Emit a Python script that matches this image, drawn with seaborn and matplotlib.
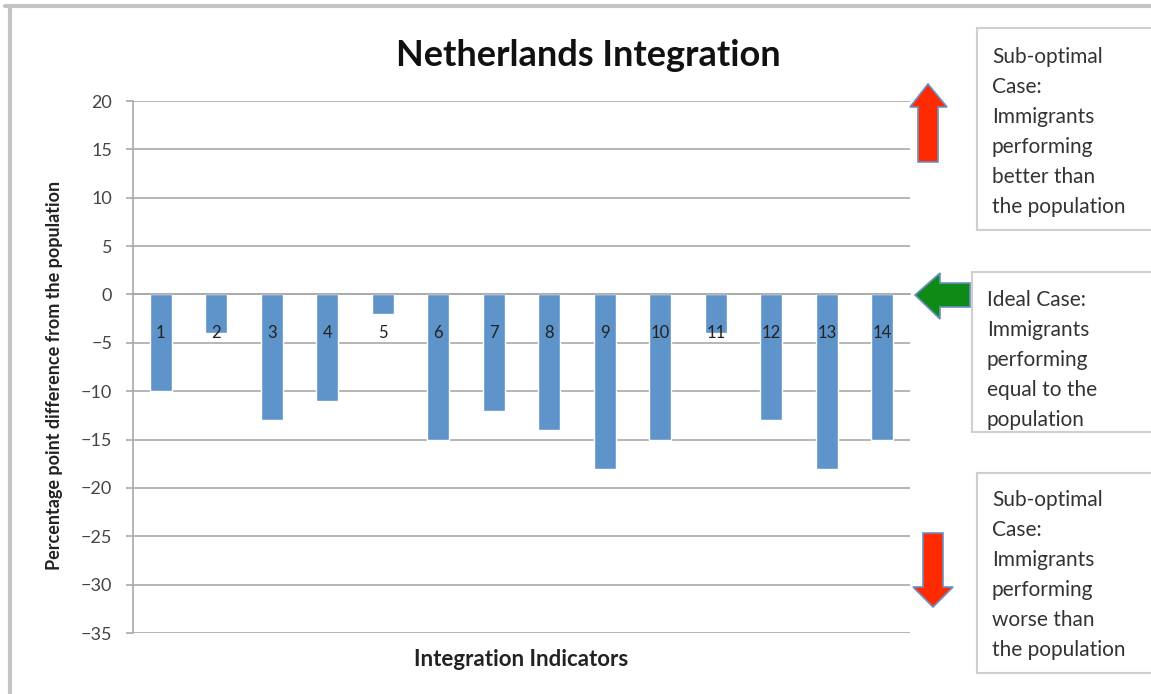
import numpy as np
import matplotlib
matplotlib.use("Agg")
import matplotlib.pyplot as plt
from matplotlib.patches import Polygon, Rectangle
import seaborn as sns

# ---- data ----
indicators = [str(i) for i in range(1, 15)]
differences = [-10, -4, -13, -11, -2, -15, -12, -14, -18, -15, -4, -13, -18, -15]
y_ticks = list(range(-35, 25, 5))

box_texts = [
    "Sub-optimal\nCase:\nImmigrants\nperforming\nbetter than\nthe population",
    "Ideal Case:\nImmigrants\nperforming\nequal to the\npopulation",
    "Sub-optimal\nCase:\nImmigrants\nperforming\nworse than\nthe population",
]

sns.set_style("white")
plt.rcParams['font.family'] = ['Lato', 'DejaVu Sans']

W, H = 1151, 694
fig = plt.figure(figsize=(W / 100, H / 100), dpi=100)
fig.patch.set_facecolor("white")

# main axes, placed in pixel terms
x0, x1, y_top, y_bot = 133, 910, 101, 633
ax = fig.add_axes([x0 / W, 1 - y_bot / H, (x1 - x0) / W, (y_bot - y_top) / H])

grid_col = "#a9a9a9"
# horizontal gridlines behind the bars (the axis itself is drawn on top
# so the category labels show over the bars)
for yv in y_ticks:
    ax.axhline(yv, color=grid_col, linewidth=1.2, zorder=0)

sns.barplot(x=indicators, y=differences, color="#5e94ca", saturation=1,
            width=0.39, ax=ax, zorder=2)

ax.set_ylim(-35, 20)
ax.set_xlim(-0.5, len(indicators) - 0.5)
ax.set_yticks(y_ticks)
ax.grid(False)
ax.set_axisbelow(False)

for s in ["top", "right"]:
    ax.spines[s].set_visible(False)
ax.spines["bottom"].set_position(("data", 0))
ax.spines["bottom"].set_color(grid_col)
ax.spines["left"].set_color(grid_col)
ax.spines["bottom"].set_linewidth(1.2)
ax.spines["left"].set_linewidth(1.2)

ax.set_xticks(np.arange(-0.5, len(indicators), 1.0), minor=True)
ax.tick_params(axis="x", which="major", length=0, pad=22, labelsize=12,
               labelcolor="#222222")
ax.tick_params(axis="x", which="minor", direction="in", length=3.5,
               color=grid_col, width=1)
ax.tick_params(axis="y", which="major", direction="out", length=5,
               color=grid_col, width=1.2, pad=10, labelsize=13,
               labelcolor="#444444")
ax.yaxis.set_ticks_position("left")

ax.set_ylabel("Percentage point difference from the population",
              fontsize=13, fontweight="bold", color="#222222")
ax.yaxis.set_label_coords((55 - x0) / (x1 - x0), 0.485)
ax.yaxis.label.set_va("center")
ax.set_xlabel("Integration Indicators", fontsize=16, fontweight="bold",
              color="#222222")
ax.xaxis.set_label_coords(0.5, -(660 - y_bot) / (y_bot - y_top))
ax.xaxis.label.set_va("center")

fig.text(588 / W, 1 - 55 / H, "Netherlands Integration", ha="center",
         va="center", fontsize=26, fontweight="bold", color="#111111")

# overlay in pixel coordinates for frame, arrows and note boxes
ov = fig.add_axes([0, 0, 1, 1], facecolor="none")
ov.set_xlim(0, W)
ov.set_ylim(H, 0)
ov.axis("off")

# screenshot frame
ov.plot([5, W], [6, 6], color="#c4c4c4", linewidth=3)
ov.plot([10, 10], [6, H], color="#c4c4c4", linewidth=3)

red, green, outline = "#ff2a00", "#0f8a16", "#6d8fc4"
up = [(928, 84), (947, 107), (938, 107), (938, 162), (918, 162), (918, 107), (910, 107)]
left = [(915, 295), (940, 273), (940, 283), (970, 283), (970, 307), (940, 307), (940, 319)]
down = [(933, 607), (953, 587), (943, 587), (943, 533), (923, 533), (923, 587), (913, 587)]
for pts, col in [(up, red), (left, green), (down, red)]:
    ov.add_patch(Polygon(pts, closed=True, facecolor=col, edgecolor=outline,
                         linewidth=1.2, zorder=5))

boxes = [(977, 28, 230, 57), (972, 272, 432, 300), (977, 473, 673, 500)]
for (bx, by0, by1, ty), txt in zip(boxes, box_texts):
    ov.add_patch(Rectangle((bx, by0), W + 10 - bx, by1 - by0, facecolor="white",
                           edgecolor="#cfcfcf", linewidth=1.5, zorder=4))
    t = ov.text(bx + 15, ty - 10, txt, ha="left", va="top", fontsize=15,
                color="#333333", linespacing=1.63, zorder=6)
    t.set_clip_path(Rectangle((bx, by0), W - bx, by1 - by0, transform=ov.transData))

fig.savefig("out.png", dpi=100)
